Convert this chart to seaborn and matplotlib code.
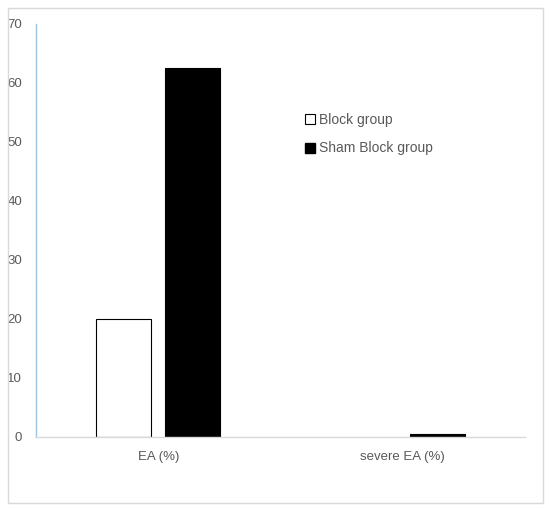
import matplotlib.pyplot as plt
import seaborn as sns
import pandas as pd
from matplotlib.patches import Rectangle
from matplotlib.lines import Line2D

categories = ['EA (%)', 'severe EA (%)']
groups = ['Block group', 'Sham Block group']
block_vals = [20, 0]
sham_vals = [62.5, 0.5]

df = pd.DataFrame({
    'cat': categories * 2,
    'group': [groups[0]] * 2 + [groups[1]] * 2,
    'val': block_vals + sham_vals,
})

sns.set_style('white')
plt.rcParams['font.family'] = ['Liberation Sans', 'DejaVu Sans']

fig = plt.figure(figsize=(5.5, 5.09), dpi=100)
ax = fig.add_axes([0.0655, 0.1415, 0.889, 0.8115])

sns.barplot(data=df, x='cat', y='val', hue='group', hue_order=groups,
            palette={'Block group': 'white', 'Sham Block group': 'black'},
            width=0.565, gap=0.2, edgecolor='black', linewidth=0.8,
            legend=False, ax=ax)

# hide outline on zero-height bars
for p in ax.patches:
    if p.get_height() == 0:
        p.set_linewidth(0)

ax.set_ylim(0, 70)
ax.set_yticks(range(0, 71, 10))
ax.set_xlim(-0.5, 1.5)
ax.set_xlabel('')
ax.set_ylabel('')
ax.tick_params(axis='both', length=0, labelsize=9.5, labelcolor='#595959')
ax.tick_params(axis='y', pad=10)
ax.tick_params(axis='x', pad=10)

for s in ['top', 'right']:
    ax.spines[s].set_visible(False)
ax.spines['left'].set_color('#9dc3e6')
ax.spines['left'].set_linewidth(1)
ax.spines['bottom'].set_color('#d9d9d9')
ax.spines['bottom'].set_linewidth(1)

handles = [
    Line2D([], [], marker='s', linestyle='', markerfacecolor='white',
           markeredgecolor='black', markersize=7, markeredgewidth=0.8),
    Line2D([], [], marker='s', linestyle='', markerfacecolor='black',
           markeredgecolor='black', markersize=7),
]
ax.legend(handles, groups, loc='upper left', bbox_to_anchor=(0.52, 0.815),
          frameon=False, fontsize=10, handletextpad=0.15, labelspacing=1.05,
          handlelength=1.0, labelcolor='#595959')

fig.patches.append(Rectangle((0.015, 0.012), 0.972, 0.973, transform=fig.transFigure,
                             fill=False, edgecolor='#d9d9d9', linewidth=1))

fig.savefig('out.png', dpi=100)
